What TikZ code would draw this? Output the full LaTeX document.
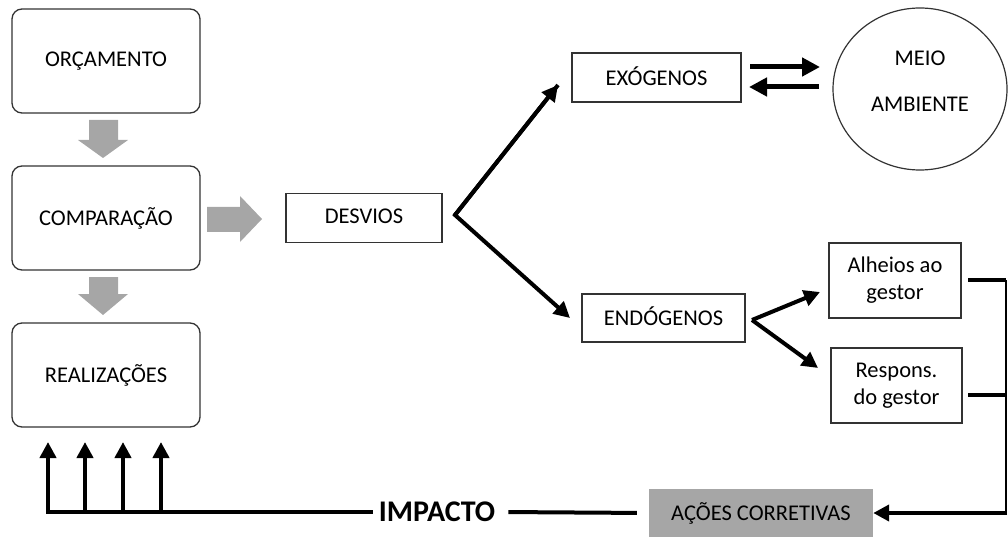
\documentclass[tikz,border=0pt]{standalone}
\usepackage{fontspec}
\setmainfont{Carlito}
\usetikzlibrary{arrows.meta,shapes.geometric}
\definecolor{blockgray}{HTML}{A6A6A6}
\definecolor{edge}{HTML}{333333}
\newcommand{\lbl}{\fontsize{22.5}{27}\selectfont}
\begin{document}
\begin{tikzpicture}[x=1pt,y=-1pt,
  rbox/.style={draw=edge, line width=1.3pt, rounded corners=10pt,
    minimum width=188pt, minimum height=104pt, inner sep=0pt, font=\lbl},
  sbox/.style={draw=edge, line width=1.3pt, inner sep=0pt, font=\lbl,
    align=center},
  blk/.style={line width=4pt, -{Triangle[length=16pt,width=16pt]}},
  bar/.style={line width=4pt},
  blockarrow/.style={fill=blockgray, draw=none}
]
\useasboundingbox (0,0) rectangle (1008,537);

% left column of rounded boxes
\node[rbox] (orc) at (106,61) {\raisebox{1pt}{ORÇAMENTO}};
\node[rbox] (comp) at (106,218) {COMPARAÇÃO};
\node[rbox] (real) at (106,375) {REALIZAÇÕES};

% grey block arrows
\fill[blockarrow] (89,120) -- (118,120) -- (118,140) -- (128,140) -- (103,158)
  -- (78,140) -- (89,140) -- cycle;
\fill[blockarrow] (89,277) -- (118,277) -- (118,294) -- (128,294) -- (103,315)
  -- (78,294) -- (89,294) -- cycle;
\fill[blockarrow] (207,207) -- (240,207) -- (240,196) -- (262,219) -- (240,242)
  -- (240,232) -- (207,232) -- cycle;

% deviations and their branches
\node[sbox, minimum width=156pt, minimum height=49pt] (desv) at (364,218) {\raisebox{3pt}{DESVIOS}};
\node[sbox, minimum width=169pt, minimum height=49pt] (exo) at (656.5,77.5) {\raisebox{3pt}{EXÓGENOS}};
\node[sbox, minimum width=163pt, minimum height=48pt] (endo) at (663.5,318) {\raisebox{3pt}{ENDÓGENOS}};
\node[ellipse, draw=edge, line width=1.2pt, minimum width=174pt, minimum height=162pt] (meio) at (920,89) {};
\node[font=\lbl] (meiot) at (920,58) {MEIO};
\node[font=\lbl] (ambt) at (920,104) {AMBIENTE};
\node[sbox, minimum width=132pt, minimum height=75pt] (alh) at (895,280.5) {Alheios ao\\gestor};
\node[sbox, minimum width=131pt, minimum height=75pt] (resp) at (896.5,385.5) {Respons.\\do gestor};
\node[fill=blockgray, minimum width=224pt, minimum height=48pt, inner sep=0pt, font=\lbl] (acoes) at (761,513) {\raisebox{3pt}{AÇÕES CORRETIVAS}};
\node[font=\fontsize{30}{34}\selectfont\bfseries, inner xsep=6pt, inner ysep=0pt] (imp) at (437,512) {IMPACTO};

% split from DESVIOS
\coordinate (v1) at (455,215);
\coordinate (t1) at (558,85);
\coordinate (t2) at (570,318);
\draw[blk, line join=miter] (t1) -- (v1) -- (t2);
\draw[blk] (v1) -- (t1);

% exchange with the environment
\coordinate (e1) at (750,67);
\coordinate (e2) at (820,67);
\coordinate (e3) at (819,87);
\coordinate (e4) at (749,87);
\draw[line width=5pt, -{Triangle[length=18pt,width=18pt]}] (e1) -- (e2);
\draw[line width=5pt, -{Triangle[length=18pt,width=18pt]}] (e3) -- (e4);

% split from ENDÓGENOS
\coordinate (v2) at (752,320);
\coordinate (t3) at (820,292);
\coordinate (t4) at (818,368);
\draw[blk] (v2) -- (t3);
\draw[blk] (v2) -- (t4);

% collecting line on the right
\coordinate (a0) at (968,280);
\coordinate (r0) at (968,395);
\coordinate (rc) at (1006,280);
\coordinate (rm) at (1006,395);
\coordinate (rb) at (1006,513);
\coordinate (rbx) at (1007.2,513);
\draw[bar] (a0) -- (rc);
\draw[bar] (r0) -- (rm);
\draw[line width=2.5pt] (rc) -- (rb);
\draw[blk] (rbx) -- (acoes.east);

% impact line back to REALIZAÇÕES
\draw[bar, shorten <=7pt, shorten >=12pt] (imp.east) -- (acoes.west);
\coordinate (u1) at (48,442);
\coordinate (u2) at (85,442);
\coordinate (u3) at (123,442);
\coordinate (u4) at (161,442);
\draw[blk, line join=miter] (imp.west) -- (48,512) -- (u1);
\draw[blk] (85,512) -- (u2);
\draw[blk] (123,512) -- (u3);
\draw[blk] (161,512) -- (u4);
\end{tikzpicture}
\end{document}
